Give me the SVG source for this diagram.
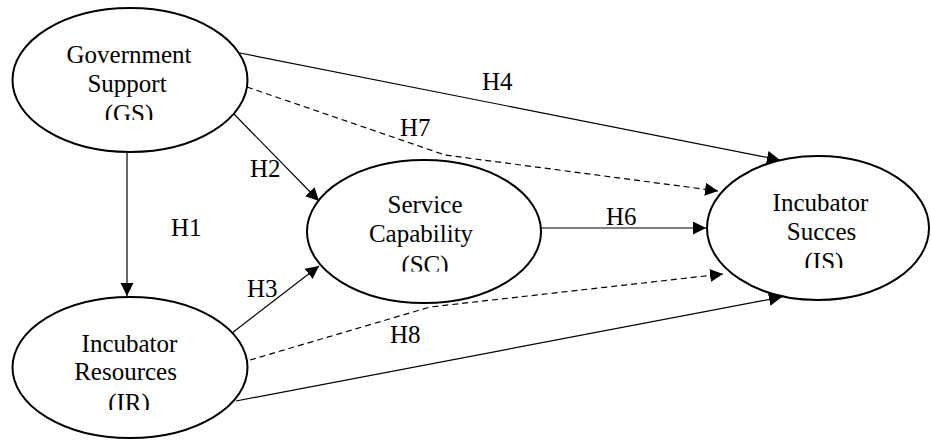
<svg xmlns="http://www.w3.org/2000/svg" width="931" height="440" viewBox="0 0 931 440">
<style>
.node{fill:#fff;stroke:#000;stroke-width:2}
.lbl{font-family:"Liberation Serif","Times New Roman",serif;font-size:25px;fill:#000}
.ctr{text-anchor:middle}
.edge{fill:none;stroke:#000;stroke-width:1.2}
.dash{stroke-dasharray:6,4}
</style>
<defs>
<marker id="ah" markerUnits="userSpaceOnUse" markerWidth="14" markerHeight="14" refX="13" refY="6.5" orient="auto">
<path d="M0,0 L13,6.5 L0,13 z" fill="#000" stroke="none"/>
</marker>
<clipPath id="cGS"><rect x="0" y="0" width="260" height="120"/></clipPath>
<clipPath id="cSC"><rect x="300" y="150" width="250" height="121.5"/></clipPath>
<clipPath id="cIS"><rect x="700" y="150" width="231" height="118"/></clipPath>
<clipPath id="cIR"><rect x="0" y="290" width="260" height="120"/></clipPath>
</defs>
<rect width="931" height="440" fill="#fff"/>
<g id="connectors">
<line class="edge" x1="127" y1="152" x2="127" y2="296" marker-end="url(#ah)"/>
<line class="edge" x1="233" y1="113" x2="319" y2="201" marker-end="url(#ah)"/>
<line class="edge" x1="232" y1="333" x2="319" y2="266" marker-end="url(#ah)"/>
<line class="edge" x1="240" y1="53" x2="780" y2="160" marker-end="url(#ah)"/>
<polyline class="edge dash" points="247,87 445,155 718,191" marker-end="url(#ah)"/>
<line class="edge" x1="541" y1="228" x2="706" y2="228" marker-end="url(#ah)"/>
<polyline class="edge dash" points="250,360 430,307 723,274" marker-end="url(#ah)"/>
<line class="edge" x1="236" y1="401" x2="782" y2="297" marker-end="url(#ah)"/>
<text class="lbl" x="482" y="90">H4</text>
<text class="lbl" x="400" y="136">H7</text>
<text class="lbl" x="250" y="177">H2</text>
<text class="lbl" x="171" y="236">H1</text>
<text class="lbl" x="606" y="225">H6</text>
<text class="lbl" x="247" y="297">H3</text>
<text class="lbl" x="390" y="343">H8</text>
</g>
<g id="GS">
<ellipse class="node" cx="130" cy="80" rx="117.5" ry="72"/>
<g clip-path="url(#cGS)">
<text class="lbl ctr" x="129" y="63">Government</text>
<text class="lbl ctr" x="127" y="92">Support</text>
<text class="lbl ctr" x="129" y="122">(GS)</text>
</g>
</g>
<g id="SC">
<ellipse class="node" cx="424" cy="231.5" rx="117" ry="71.5"/>
<g clip-path="url(#cSC)">
<text class="lbl ctr" x="425" y="213">Service</text>
<text class="lbl ctr" x="421" y="242">Capability</text>
<text class="lbl ctr" x="425" y="273">(SC)</text>
</g>
</g>
<g id="IS">
<ellipse class="node" cx="818" cy="228" rx="111" ry="72"/>
<g clip-path="url(#cIS)">
<text class="lbl ctr" x="820.5" y="211">Incubator</text>
<text class="lbl ctr" x="821.5" y="240">Succes</text>
<text class="lbl ctr" x="824" y="270">(IS)</text>
</g>
</g>
<g id="IR">
<ellipse class="node" cx="130" cy="367.5" rx="117.5" ry="70.5"/>
<g clip-path="url(#cIR)">
<text class="lbl ctr" x="129.5" y="352">Incubator</text>
<text class="lbl ctr" x="125.5" y="380">Resources</text>
<text class="lbl ctr" x="129" y="411">(IR)</text>
</g>
</g>
</svg>
